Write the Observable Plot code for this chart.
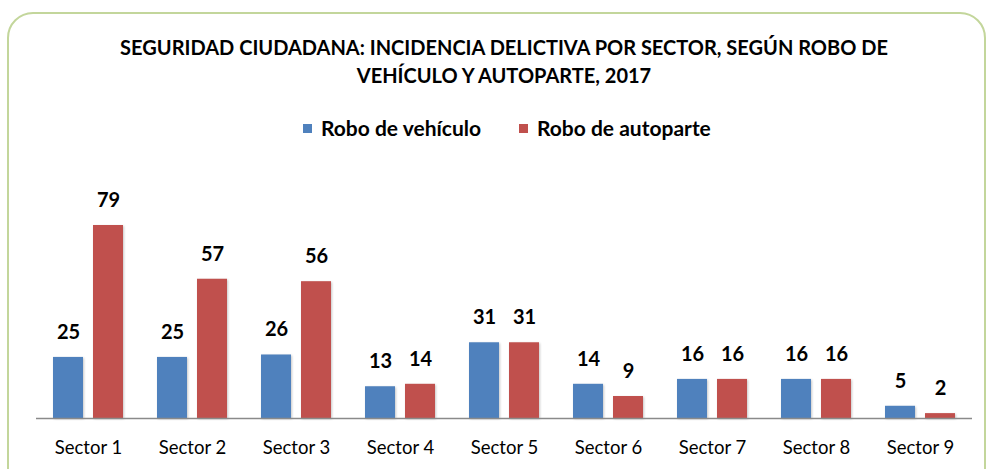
<!DOCTYPE html>
<html><head><meta charset="utf-8">
<script src="https://cdn.jsdelivr.net/npm/d3@7"></script>
<script src="https://cdn.jsdelivr.net/npm/@observablehq/plot@0.6"></script>
<style>
html,body{margin:0;padding:0;background:#fff;overflow:hidden;}
#wrap{position:relative;width:986px;height:469px;font-family:Lato,sans-serif;color:#000;}
#frame{position:absolute;left:7px;top:12px;width:979px;height:520px;border:2px solid #c3d69b;border-radius:26px;box-sizing:border-box;}
#title{position:absolute;left:0;width:1008px;top:33px;text-align:center;font-weight:700;font-size:20px;line-height:28px;}
.leg{position:absolute;top:117px;font-weight:700;font-size:21px;line-height:22px;white-space:nowrap;}
.sw{position:absolute;width:9px;height:9px;top:124px;}
#chart{position:absolute;left:0;top:169px;}
#chart g[aria-label="bar"] rect{filter:drop-shadow(1px 1px 1px rgba(0,0,0,0.22));}
</style></head>
<body><div id="wrap"><div id="frame"></div>
<div id="title">SEGURIDAD CIUDADANA: INCIDENCIA DELICTIVA POR SECTOR, SEGÚN ROBO DE<br>VEHÍCULO Y AUTOPARTE, 2017</div>
<div id="legend"></div>
<div id="chart"></div></div>
<script>
const sectors = ["Sector 1","Sector 2","Sector 3","Sector 4","Sector 5","Sector 6","Sector 7","Sector 8","Sector 9"];
const series = ["Robo de vehículo","Robo de autoparte"];
const vehiculo = [25,25,26,13,31,14,16,16,5];
const autoparte = [79,57,56,14,31,9,16,16,2];
const colors = ["#4f81bd","#c0504d"];

const data = sectors.flatMap((s,i)=>[
  {sector:s, serie:series[0], value:vehiculo[i]},
  {sector:s, serie:series[1], value:autoparte[i]}
]);

// legend
const legend = document.getElementById("legend");
const legX = [[303,321],[519,537]];
series.forEach((s,i)=>{
  const sw = document.createElement("div");
  sw.className="sw"; sw.style.left=legX[i][0]+"px"; sw.style.background=colors[i];
  const t = document.createElement("div");
  t.className="leg"; t.style.left=legX[i][1]+"px"; t.textContent=s;
  legend.appendChild(sw); legend.appendChild(t);
});

const chart = Plot.plot({
  width:986, height:300,
  marginLeft:36, marginRight:14, marginTop:4.7, marginBottom:51,
  style:{fontFamily:"Lato, sans-serif", fontSize:"18.5px", color:"#000", background:"transparent"},
  fx:{domain:sectors, padding:0, label:null, axis:"bottom", tickSize:0, tickPadding:22},
  x:{domain:series, paddingInner:0.25, paddingOuter:0.425, axis:null},
  y:{domain:[0,100], axis:null},
  color:{domain:series, range:colors},
  marks:[
    Plot.barY(data,{fx:"sector", x:"serie", y:"value", fill:"serie"}),
    Plot.ruleY([0],{stroke:"#8a8a8a", strokeWidth:1.5}),
    Plot.text(data,{fx:"sector", x:"serie", y:"value", text:d=>String(d.value), dy:-25, fontWeight:"bold", fontSize:20, fill:"#000"})
  ]
});
document.getElementById("chart").appendChild(chart);
</script>
</body></html>
